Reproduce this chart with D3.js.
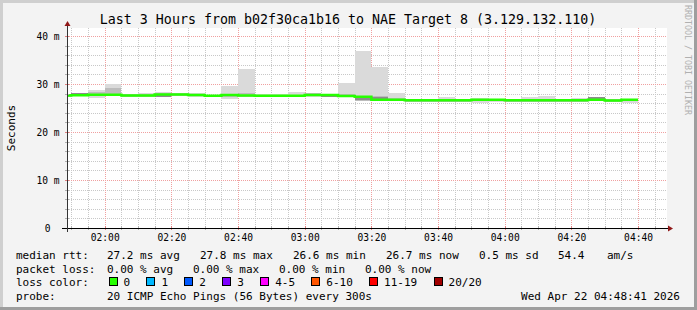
<!DOCTYPE html>
<html>
<head>
<meta charset="utf-8">
<script src="https://cdn.jsdelivr.net/npm/d3@7"></script>
<style>
body { margin: 0; background: #fff; }
svg text { font-family: "DejaVu Sans Mono", monospace; }
</style>
</head>
<body>
<svg id="chart" width="697" height="310"></svg>
<script>
// ---- data ----
const day = "2026-04-22";
const startTime = "01:48:41";
const endTime = "04:48:41";
const stepSeconds = 300;

// end of each 5 minute step
const stepEnd = ["01:50","01:55","02:00","02:05","02:10","02:15","02:20","02:25","02:30","02:35",
                 "02:40","02:45","02:50","02:55","03:00","03:05","03:10","03:15","03:20","03:25",
                 "03:30","03:35","03:40","03:45","03:50","03:55","04:00","04:05","04:10","04:15",
                 "04:20","04:25","04:30","04:35","04:40"];

// median rtt (ms)
const median = [27.6,27.65,27.75,27.75,27.6,27.6,27.8,27.8,27.7,27.55,
                27.7,27.6,27.55,27.55,27.55,27.7,27.7,27.5,27.35,26.7,
                26.7,26.6,26.6,26.6,26.6,26.7,26.7,26.6,26.6,26.6,
                26.6,26.6,26.7,26.55,26.7];

// outer smoke (light)
const smokeHi = [27.9,28.05,28.75,29.9,27.95,28.05,28.3,28.05,28.1,27.8,
                 29.65,33.1,27.95,28.0,28.35,28.1,27.9,30.2,36.9,33.6,
                 28.1,26.85,26.85,27.35,26.85,27.1,26.9,26.85,27.3,27.5,
                 26.85,27.1,27.35,26.8,26.9];
const smokeLo = [27.35,27.4,27.15,27.45,27.2,27.35,27.3,27.45,27.3,27.2,
                 26.95,27.3,27.25,27.25,27.25,27.35,27.3,27.2,26.5,26.4,
                 26.4,26.3,26.3,26.3,26.3,26.1,26.2,26.3,26.3,26.3,
                 26.3,26.3,26.4,26.25,26.1];

// middle smoke
const midHi = [27.85,27.9,28.35,29.2,27.85,27.85,28.05,28.05,27.95,27.8,
               28.0,28.05,27.8,27.8,27.8,28.1,27.9,28.0,27.6,27.5,
               27.0,26.85,26.85,26.85,26.85,26.95,26.9,26.85,26.85,26.85,
               26.85,26.85,26.95,26.8,26.9];
const midLo = [27.35,27.4,27.4,27.6,27.35,27.35,27.35,27.55,27.45,27.25,
               27.3,27.35,27.3,27.3,27.3,27.5,27.35,27.25,26.55,26.5,
               26.45,26.35,26.35,26.35,26.35,26.45,26.45,26.35,26.35,26.35,
               26.35,26.35,26.45,26.3,26.45];

// inner smoke (dark)
const coreHi = [27.75,28.05,27.9,27.9,27.75,27.75,27.8,27.95,27.85,27.55,
                27.85,27.75,27.7,27.7,27.7,27.85,27.7,27.65,27.2,27.2,
                26.85,26.75,26.75,26.75,26.75,26.85,26.85,26.75,26.75,26.75,
                26.75,26.75,27.2,26.7,26.85];
const coreLo = [27.45,27.45,27.6,27.6,27.45,27.45,27.35,27.65,27.55,27.22,
                27.55,27.45,27.4,27.4,27.4,27.55,27.35,27.35,26.6,26.6,
                26.55,26.45,26.45,26.45,26.45,26.55,26.55,26.45,26.45,26.45,
                26.45,26.45,26.7,26.4,26.55];

const yTicks = [0, 10, 20, 30, 40];
const yMax = 41.67;
const yMinorStep = 2;

const lossLabels = ["0","1","2","3","4-5","6-10","11-19","20/20"];
const lossColors = ["#26ff00","#00b8ff","#0059ff","#7e00ff","#ff00ff","#ff5500","#ff0000","#a10000"];

const titleText = "Last 3 Hours from b02f30ca1b16 to NAE Target 8 (3.129.132.110)";
const statsRtt = [["median rtt:",16],["27.2 ms avg",107],["27.8 ms max",200],["26.6 ms min",293],
                  ["26.7 ms now",386],["0.5 ms sd",479],["54.4",558],["am/s",607]];
const statsLoss = [["packet loss:",16],["0.00 % avg",107],["0.00 % max",193],["0.00 % min",279],["0.00 % now",365]];
const probeText = "20 ICMP Echo Pings (56 Bytes) every 300s";
const stampText = "Wed Apr 22 04:48:41 2026";

// ---- drawing ----
const W = 697, H = 310;
const pL = 67, pR = 667, pT = 28, pB = 228;
const parseFull = d3.utcParse("%Y-%m-%d %H:%M:%S");
const pt = s => parseFull(day + " " + (s.length === 5 ? s + ":00" : s));
const t0 = pt(startTime), t1 = pt(endTime);

const x = d3.scaleUtc().domain([t0, t1]).range([pL, pR]);
const y = d3.scaleLinear().domain([0, yMax]).range([pB, pT]);

const svg = d3.select("#chart");

// canvas + 3d frame
svg.append("rect").attr("width", W).attr("height", H).attr("fill", "#f3f3f3");
svg.append("path").attr("d", `M1.5,${H} V1.5 H${W}`).attr("fill", "none")
    .attr("stroke", "#cfcfcf").attr("stroke-width", 3);
svg.append("path").attr("d", `M0,${H-1.5} H${W-1.5} V0`).attr("fill", "none")
    .attr("stroke", "#9e9e9e").attr("stroke-width", 3);

svg.append("rect").attr("x", pL).attr("y", pT)
    .attr("width", pR - pL).attr("height", pB - pT).attr("fill", "#fff");

svg.append("clipPath").attr("id", "plotclip")
  .append("rect").attr("x", pL).attr("y", pT).attr("width", pR - pL).attr("height", pB - pT);

// grid
const minorT = x.ticks(d3.utcMinute.every(5));
const majorT = x.ticks(d3.utcMinute.every(20));
const majorKeys = new Set(majorT.map(d => +d));
const minorV = d3.range(yMinorStep, yMax, yMinorStep).filter(v => !yTicks.includes(v));
const px = v => Math.round(v) + 0.5;

const grid = svg.append("g").attr("fill", "none").attr("stroke-width", 1);
grid.selectAll(".vmin").data(minorT.filter(d => !majorKeys.has(+d))).join("line")
    .attr("x1", d => px(x(d))).attr("x2", d => px(x(d)))
    .attr("y1", pT).attr("y2", pB)
    .attr("stroke", "#c8c8c8").attr("stroke-dasharray", "1,1");
grid.selectAll(".hmin").data(minorV).join("line")
    .attr("x1", pL).attr("x2", pR)
    .attr("y1", d => px(y(d))).attr("y2", d => px(y(d)))
    .attr("stroke", "#c8c8c8").attr("stroke-dasharray", "1,1");
grid.selectAll(".vmaj").data(majorT).join("line")
    .attr("x1", d => px(x(d))).attr("x2", d => px(x(d)))
    .attr("y1", pT).attr("y2", pB)
    .attr("stroke", "#f0a0a0").attr("stroke-dasharray", "1,1");
grid.selectAll(".hmaj").data(yTicks.filter(v => v > 0)).join("line")
    .attr("x1", pL).attr("x2", pR)
    .attr("y1", d => px(y(d))).attr("y2", d => px(y(d)))
    .attr("stroke", "#f0a0a0").attr("stroke-dasharray", "1,1");

// smoke
const steps = stepEnd.map((s, i) => ({ end: pt(s), start: d3.utcSecond.offset(pt(s), -stepSeconds), i }));
const plot = svg.append("g").attr("clip-path", "url(#plotclip)");

function band(hi, lo, color) {
  plot.append("g").selectAll("rect").data(steps).join("rect")
      .attr("x", d => x(d.start))
      .attr("width", d => x(d.end) - x(d.start))
      .attr("y", d => y(hi[d.i]))
      .attr("height", d => y(lo[d.i]) - y(hi[d.i]))
      .attr("fill", color)
      .attr("shape-rendering", "crispEdges");
}
band(smokeHi, smokeLo, "#dadada");
band(midHi, midLo, "#bcbcbc");
band(coreHi, coreLo, "#8c8c8c");

// median line (loss 0 -> green)
const medPts = steps.flatMap(d => [[d.start, median[d.i]], [d.end, median[d.i]]]);
plot.append("path")
    .attr("d", d3.line().x(d => x(d[0])).y(d => y(d[1]))(medPts))
    .attr("fill", "none")
    .attr("stroke", lossColors[0])
    .attr("stroke-width", 2.5);

// ticks on axes
const tk = svg.append("g").attr("stroke-width", 1);
tk.selectAll(".ty").data(minorV).join("line")
    .attr("x1", pL - 2).attr("x2", pL + 2)
    .attr("y1", d => px(y(d))).attr("y2", d => px(y(d))).attr("stroke", "#b0b0b0");
tk.selectAll(".tY").data(yTicks).join("line")
    .attr("x1", pL - 2).attr("x2", pL + 2)
    .attr("y1", d => px(y(d))).attr("y2", d => px(y(d))).attr("stroke", "#e08080");
tk.selectAll(".tx").data(minorT).join("line")
    .attr("x1", d => px(x(d))).attr("x2", d => px(x(d)))
    .attr("y1", pB - 2).attr("y2", pB + 2)
    .attr("stroke", d => majorKeys.has(+d) ? "#e08080" : "#b0b0b0");

// axis lines + arrows
svg.append("line").attr("x1", pL - 5).attr("x2", pR + 4)
    .attr("y1", pB + 0.5).attr("y2", pB + 0.5).attr("stroke", "#000");
svg.append("line").attr("x1", pL + 0.5).attr("x2", pL + 0.5)
    .attr("y1", pB + 4).attr("y2", pT - 4).attr("stroke", "#333");
svg.append("path").attr("d", `M${pR + 1},${pB - 2.5} L${pR + 6},${pB + 0.5} L${pR + 1},${pB + 3.5} Z`)
    .attr("fill", "#901818");
svg.append("path").attr("d", `M${pL - 2.5},${pT - 2} L${pL + 0.5},${pT - 7} L${pL + 3.5},${pT - 2} Z`)
    .attr("fill", "#901818");

// axis labels
const yAxis = svg.append("g").attr("transform", `translate(${pL},0)`)
    .call(d3.axisLeft(y).tickValues(yTicks).tickSize(0).tickPadding(7.5)
          .tickFormat(d => d === 0 ? "0" : d + " m"));
yAxis.select(".domain").remove();
yAxis.selectAll("text").attr("font-size", 9.6).attr("font-family", "DejaVu Sans Mono")
    .attr("fill", "#000").attr("dy", "0.35em")
    .filter(d => d === 0).attr("x", -16.5);

const xAxis = svg.append("g").attr("transform", `translate(0,${pB})`)
    .call(d3.axisBottom(x).tickValues(majorT).tickSize(0).tickPadding(6.2)
          .tickFormat(d3.utcFormat("%H:%M")));
xAxis.select(".domain").remove();
xAxis.selectAll("text").attr("font-size", 9.6).attr("font-family", "DejaVu Sans Mono").attr("fill", "#000");

// title, vertical label, watermark
svg.append("text").attr("x", 348).attr("y", 24).attr("text-anchor", "middle")
    .attr("font-size", 13.3).attr("fill", "#000").text(titleText);
svg.append("text").attr("transform", `translate(14.5,${(pT + pB) / 2}) rotate(-90)`)
    .attr("text-anchor", "middle").attr("font-size", 11).attr("fill", "#000").text("Seconds");
svg.append("text").attr("transform", "translate(685,5) rotate(90)")
    .attr("font-size", 8.3).attr("fill", "#b0b0b0").text("RRDTOOL / TOBI OETIKER");

// legend
const lg = svg.append("g").attr("font-size", 11).attr("fill", "#000");
const rowY = [259, 272.5, 286, 299.5];
lg.selectAll(".r1").data(statsRtt).join("text")
    .attr("x", d => d[1]).attr("y", rowY[0]).text(d => d[0]);
lg.selectAll(".r2").data(statsLoss).join("text")
    .attr("x", d => d[1]).attr("y", rowY[1]).text(d => d[0]);
lg.append("text").attr("x", 16).attr("y", rowY[2]).text("loss color:");

const charW = 6.62;
let bx = 108.5;
const items = lossLabels.map(l => {
  const it = { label: l, x: bx };
  bx += 15 + l.length * charW + 16.3;
  return it;
});
lg.selectAll(".box").data(items).join("rect")
    .attr("x", d => Math.round(d.x) + 0.5).attr("y", rowY[2] - 8.5)
    .attr("width", 8).attr("height", 8)
    .attr("fill", (d, i) => lossColors[i]).attr("stroke", "#000").attr("stroke-width", 1);
lg.selectAll(".lbl").data(items).join("text")
    .attr("x", d => d.x + 15).attr("y", rowY[2]).text(d => d.label);

lg.append("text").attr("x", 16).attr("y", rowY[3]).text("probe:");
lg.append("text").attr("x", 107).attr("y", rowY[3]).text(probeText);
lg.append("text").attr("x", 680).attr("y", rowY[3]).attr("text-anchor", "end").text(stampText);
</script>
</body>
</html>
